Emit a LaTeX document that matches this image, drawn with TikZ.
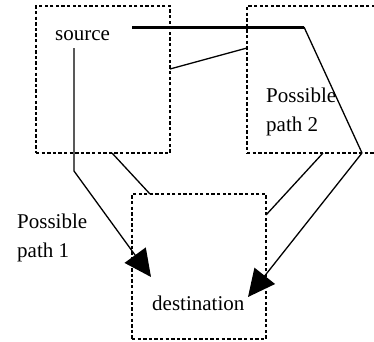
\documentclass[tikz,border=0pt]{standalone}
\usepackage{fontspec}
\setmainfont{Liberation Serif}
\usetikzlibrary{arrows.meta,positioning,calc}

\begin{document}
\begin{tikzpicture}[x=1pt, y=-1pt,
    box/.style={draw, dash pattern=on 3.3pt off 2.3pt, line width=1.4pt, minimum width=134pt, minimum height=147pt, inner sep=0pt},
    lbl/.style={font=\fontsize{21}{29}\selectfont, inner sep=0pt, align=left, anchor=base west},
    ln/.style={line width=1.3pt},
    arr/.style={ln, -{Triangle[length=27pt, width=26pt]}}
]
\useasboundingbox (0,0) rectangle (374,341);
\clip (0,0) rectangle (374,341);
\node[box] (srcbox) at (103,79.5) {};
\node[box, minimum width=150pt] (pathbox) at (322,79.5) {};
\node[box, minimum height=145pt] (dstbox) at (199,266.5) {};

\node[lbl] (src) at (55,40) {source};
\node[lbl] (path2) at (266,131) {Possible\\path 2};
\node[lbl] (path1) at (17,257) {Possible\\path 1};
\node[lbl] (dst) at (152,310) {destination};

\coordinate (p1start) at (74,48);
\coordinate (p1bend) at (74,171);
\coordinate (p1end) at (151,277);
\coordinate (p2start) at (132,27);
\coordinate (p2bend) at (304,27);
\coordinate (p2turn) at (362,153);
\coordinate (p2end) at (248,297);
\coordinate (srcE) at (170,69);
\coordinate (pathW) at (247,48);
\coordinate (srcS) at (112,153);
\coordinate (dstN) at (150,194);
\coordinate (dstE) at (266,215);
\coordinate (pathS) at (323,153);

\draw[line width=3pt] (p2start) -- (p2bend);
\draw[ln] (p2bend) -- (p2turn);
\draw[arr] (p2turn) -- (p2end);
\draw[arr] (p1start) -- (p1bend) -- (p1end);
\draw[ln] (srcE) -- (pathW);
\draw[ln] (srcS) -- (dstN);
\draw[ln] (dstE) -- (pathS);
\end{tikzpicture}
\end{document}
